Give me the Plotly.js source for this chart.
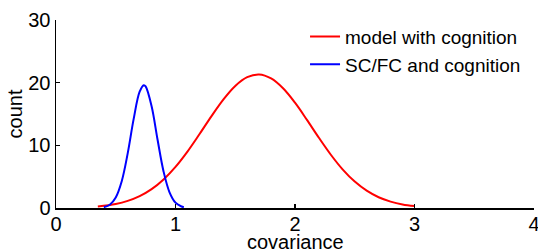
<!DOCTYPE html>
<html>
<head>
<meta charset="utf-8">
<script src="https://cdn.plot.ly/plotly-3.0.1.min.js"></script>
<style>html,body{margin:0;padding:0;background:#fff;}#chart{width:538px;height:249px;}</style>
</head>
<body>
<div id="chart"></div>
<script>
// Values
const redName = "model with cognition";
const redX = [0.35,0.5,0.6,0.7,0.8,0.9,1.0,1.1,1.2,1.3,1.4,1.5,1.6,1.7,1.8,1.9,2.0,2.1,2.2,2.3,2.4,2.5,2.6,2.7,2.8,2.9,3.0];
const redY = [0.25,0.64,1.13,1.89,3.01,4.56,6.57,9.01,11.77,14.63,17.30,19.48,20.88,21.30,20.67,19.10,16.80,14.06,11.21,8.50,6.13,4.21,2.76,1.71,1.02,0.57,0.31];

const blueName = "SC/FC and cognition";
const blueX = [0.40,0.45,0.50,0.55,0.60,0.65,0.70,0.735,0.75,0.80,0.85,0.90,0.95,1.00,1.05,1.07];
const blueY = [0.13,0.53,1.69,4.28,8.72,14.22,18.56,19.60,19.40,16.24,10.89,5.84,2.51,0.86,0.24,0.13];

const xTicks = [0,1,2,3,4];
const yTicks = [0,10,20,30];
const xTitle = "covariance";
const yTitle = "count";

const fontFam = "Liberation Sans, Arial, Helvetica, sans-serif";

const traces = [
  {x: redX, y: redY, name: redName, type: "scatter", mode: "lines",
   line: {color: "#ff0000", width: 2, shape: "spline", smoothing: 1}},
  {x: blueX, y: blueY, name: blueName, type: "scatter", mode: "lines",
   line: {color: "#0000ff", width: 2, shape: "spline", smoothing: 1}}
];

const layout = {
  width: 538, height: 249,
  margin: {l: 56, r: 4, t: 20, b: 41, pad: 0},
  paper_bgcolor: "#fff", plot_bgcolor: "#fff",
  font: {family: fontFam, size: 20, color: "#000"},
  showlegend: true,
  legend: {x: 0.521, y: 1.012, xanchor: "left", yanchor: "top",
           bgcolor: "rgba(0,0,0,0)", font: {family: fontFam, size: 19, color: "#000"},
           tracegroupgap: 0, itemwidth: 30},
  xaxis: {range: [0, 4], tickvals: xTicks, ticktext: xTicks.map(String),
          showgrid: false, zeroline: false, showline: true, linecolor: "#000", linewidth: 1.5,
          ticks: "inside", ticklen: 4, tickwidth: 1.2, tickcolor: "#000",
          ticklabeloverflow: "allow", ticklabelstandoff: -3,
          tickfont: {family: fontFam, size: 20}, automargin: false},
  yaxis: {range: [0, 30], tickvals: yTicks, ticktext: yTicks.map(String),
          showgrid: false, zeroline: false, showline: true, linecolor: "#000", linewidth: 1.5,
          ticks: "inside", ticklen: 4, tickwidth: 1.2, tickcolor: "#000",
          ticklabeloverflow: "allow",
          tickfont: {family: fontFam, size: 20}, automargin: false,
          title: {text: yTitle, font: {family: fontFam, size: 20}, standoff: 0}},
  annotations: [
    {text: xTitle, xref: "paper", yref: "paper", x: 0.5, y: -0.183,
     xanchor: "center", yanchor: "middle", showarrow: false,
     font: {family: fontFam, size: 20, color: "#000"}}
  ]
};

Plotly.newPlot("chart", traces, layout, {displayModeBar: false, staticPlot: true});
</script>
</body>
</html>
